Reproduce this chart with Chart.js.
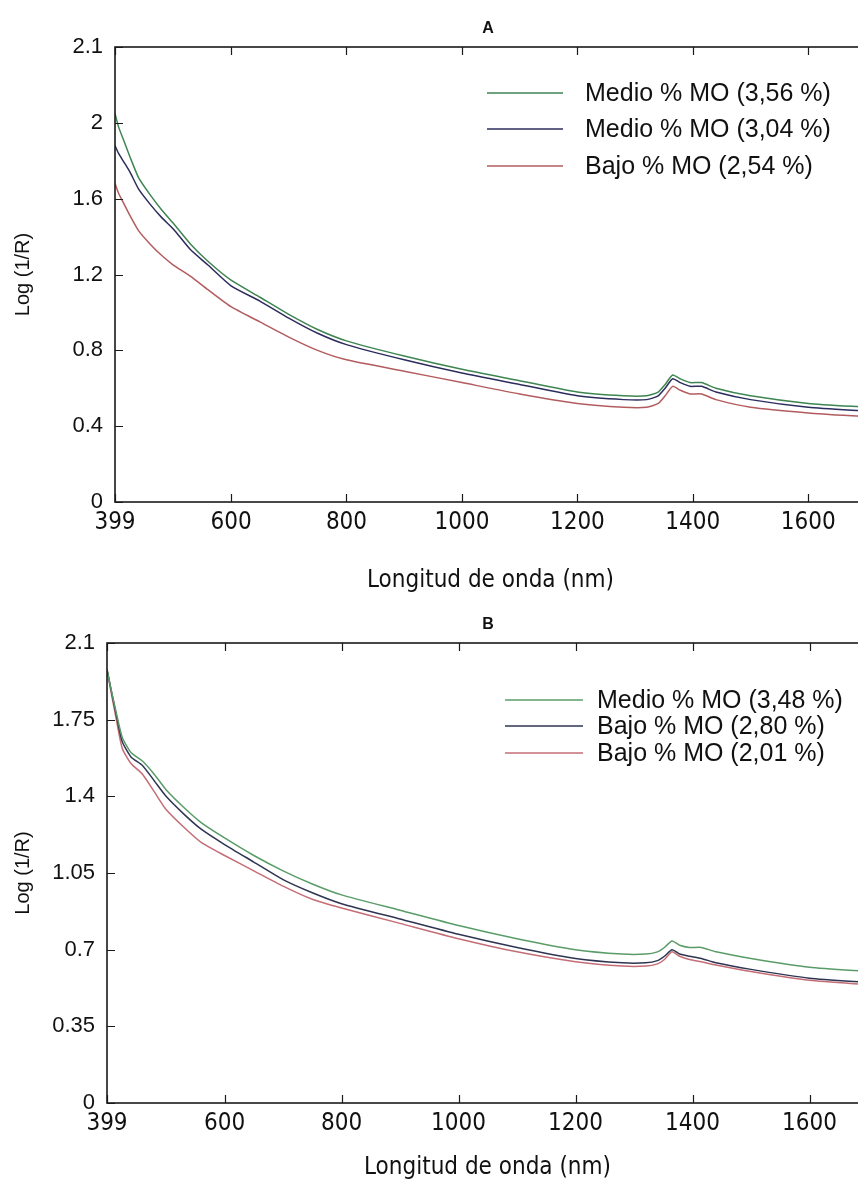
<!DOCTYPE html>
<html>
<head>
<meta charset="utf-8">
<script src="https://cdn.jsdelivr.net/npm/chart.js@4.4.1/dist/chart.umd.min.js"></script>
<style>
	html, body { margin: 0; padding: 0; background: #fff; overflow: hidden; width: 858px; height: 1187px; }
	.panel { position: absolute; left: 0; }
</style>
</head>
<body>
<div class="panel" style="top:0"><canvas id="chartA" width="880" height="600"></canvas></div>
<div class="panel" style="top:600px"><canvas id="chartB" width="880" height="587"></canvas></div>
<script>
// wavelengths (nm), shared by both panels
const wavelengths = [399, 405, 415, 425, 440, 460, 480, 500, 530, 560, 600, 650, 700, 750, 800, 900, 1000, 1100, 1200, 1280, 1320, 1340, 1352, 1365, 1378, 1395, 1415, 1440, 1500, 1600, 1700];
const xTicks = [399, 600, 800, 1000, 1200, 1400, 1600];

// Panel A
const labelsA = ["Medio % MO (3,56 %)", "Medio % MO (3,04 %)", "Bajo % MO (2,54 %)"];
const greenA = [2.05, 1.98, 1.90, 1.82, 1.71, 1.62, 1.54, 1.47, 1.36, 1.27, 1.17, 1.08, 0.99, 0.91, 0.85, 0.77, 0.70, 0.64, 0.58, 0.56, 0.56, 0.58, 0.62, 0.67, 0.65, 0.63, 0.63, 0.60, 0.56, 0.52, 0.50];
const blueA = [1.88, 1.84, 1.79, 1.74, 1.65, 1.57, 1.50, 1.44, 1.33, 1.25, 1.14, 1.06, 0.97, 0.89, 0.83, 0.75, 0.68, 0.62, 0.56, 0.54, 0.54, 0.56, 0.60, 0.65, 0.63, 0.61, 0.61, 0.58, 0.54, 0.50, 0.48];
const redA = [1.68, 1.63, 1.57, 1.51, 1.43, 1.36, 1.30, 1.25, 1.19, 1.12, 1.03, 0.95, 0.87, 0.80, 0.75, 0.69, 0.63, 0.57, 0.52, 0.50, 0.50, 0.52, 0.56, 0.61, 0.59, 0.57, 0.57, 0.54, 0.50, 0.47, 0.45];
const yTicksA = [0, 0.4, 0.8, 1.2, 1.6, 2.0, 2.4];
const yTickLabelsA = ["0", "0.4", "0.8", "1.2", "1.6", "2", "2.1"];

// Panel B
const labelsB = ["Medio % MO (3,48 %)", "Bajo % MO (2,80 %)", "Bajo % MO (2,01 %)"];
const greenB = [1.98, 1.90, 1.78, 1.67, 1.60, 1.56, 1.50, 1.43, 1.35, 1.28, 1.21, 1.13, 1.06, 1.00, 0.95, 0.88, 0.81, 0.75, 0.70, 0.68, 0.68, 0.69, 0.71, 0.74, 0.72, 0.71, 0.71, 0.69, 0.66, 0.62, 0.60];
const blueB = [1.98, 1.90, 1.77, 1.65, 1.58, 1.54, 1.47, 1.40, 1.32, 1.25, 1.18, 1.10, 1.02, 0.96, 0.91, 0.84, 0.77, 0.71, 0.66, 0.64, 0.64, 0.65, 0.67, 0.70, 0.68, 0.67, 0.66, 0.64, 0.61, 0.57, 0.55];
const redB = [1.98, 1.89, 1.75, 1.62, 1.55, 1.50, 1.42, 1.34, 1.26, 1.19, 1.13, 1.06, 0.99, 0.93, 0.89, 0.82, 0.75, 0.69, 0.645, 0.625, 0.625, 0.635, 0.655, 0.69, 0.67, 0.655, 0.645, 0.63, 0.60, 0.56, 0.54];
const yTicksB = [0, 0.35, 0.7, 1.05, 1.4, 1.75, 2.1];
const yTickLabelsB = ["0", "0.35", "0.7", "1.05", "1.4", "1.75", "2.1"];

const NARROW = '"Liberation Sans Narrow", "DejaVu Sans Condensed", "Liberation Sans", sans-serif';
const SANS = '"Liberation Sans", Arial, sans-serif';

// frame, inward ticks, panel letter and legend (matlab look)
const framePlugin = {
	id: "frame",
	afterDraw(chart, args, opts) {
		const { ctx, chartArea: a } = chart;
		const x = chart.scales.x;
		const y = chart.scales.y;
		ctx.save();
		ctx.strokeStyle = "#1a1a1a";
		ctx.lineWidth = 1.6;
		ctx.strokeRect(a.left, a.top, a.right - a.left, a.bottom - a.top);

		const len = 8;
		ctx.lineWidth = 1.2;
		ctx.beginPath();
		x.ticks.forEach((t) => {
			const px = Math.round(x.getPixelForValue(t.value)) + 0.5;
			ctx.moveTo(px, a.bottom); ctx.lineTo(px, a.bottom - len);
			ctx.moveTo(px, a.top); ctx.lineTo(px, a.top + len);
		});
		y.ticks.forEach((t) => {
			const py = Math.round(y.getPixelForValue(t.value)) + 0.5;
			ctx.moveTo(a.left, py); ctx.lineTo(a.left + len, py);
			ctx.moveTo(a.right, py); ctx.lineTo(a.right - len, py);
		});
		ctx.stroke();

		// panel letter
		ctx.fillStyle = "#111";
		ctx.font = "bold 16px " + SANS;
		ctx.textAlign = "center";
		ctx.textBaseline = "middle";
		ctx.fillText(opts.letter, opts.letterX, a.top - 18);

		// legend
		ctx.font = "25px " + SANS;
		ctx.textAlign = "left";
		chart.data.datasets.forEach((ds, i) => {
			const ly = opts.legendY[i];
			ctx.strokeStyle = ds.borderColor;
			ctx.lineWidth = 1.6;
			ctx.beginPath();
			ctx.moveTo(opts.lineX0, ly);
			ctx.lineTo(opts.lineX1, ly);
			ctx.stroke();
			ctx.fillStyle = "#111";
			ctx.fillText(ds.label, opts.textX, ly + 1);
		});
		ctx.restore();
	},
};

function makePanel(id, series, labels, colors, yTicks, yTickLabels, dims) {
	const datasets = series.map((vals, i) => ({
		label: labels[i],
		data: wavelengths.map((w, j) => ({ x: w, y: vals[j] })),
		borderColor: colors[i],
		borderWidth: 1.5,
		pointRadius: 0,
		tension: 0.2,
		fill: false,
	}));

	return new Chart(document.getElementById(id), {
		type: "line",
		data: { datasets },
		plugins: [framePlugin],
		options: {
			responsive: false,
			animation: false,
			layout: { padding: { top: dims.top, right: dims.right, left: 0, bottom: 0 } },
			plugins: {
				legend: { display: false },
				tooltip: { enabled: false },
				frame: dims.frame,
			},
			scales: {
				x: {
					type: "linear",
					min: 399,
					max: 1700,
					afterBuildTicks: (s) => { s.ticks = xTicks.map((v) => ({ value: v })); },
					afterFit: (s) => { s.height = dims.xH; },
					grid: { display: false, drawTicks: false },
					border: { display: false },
					ticks: {
						color: "#111",
						padding: 6,
						maxRotation: 0,
						autoSkip: false,
						font: { family: NARROW, size: 24 },
						callback: (v) => String(v),
					},
					title: {
						display: true,
						text: "Longitud de onda (nm)",
						color: "#111",
						font: { family: NARROW, size: 24 },
						padding: { top: 0, bottom: 5 },
					},
				},
				y: {
					type: "linear",
					min: yTicks[0],
					max: yTicks[yTicks.length - 1],
					afterBuildTicks: (s) => { s.ticks = yTicks.map((v) => ({ value: v })); },
					afterFit: (s) => { s.width = dims.yW; },
					grid: { display: false, drawTicks: false },
					border: { display: false },
					ticks: {
						color: "#111",
						padding: 12,
						autoSkip: false,
						font: { family: SANS, size: 22 },
						callback: (v, i) => yTickLabels[i],
					},
					title: {
						display: true,
						text: "Log (1/R)",
						color: "#111",
						font: { family: SANS, size: 20 },
						padding: { top: 11, bottom: 0 },
					},
				},
			},
		},
	});
}

makePanel("chartA", [greenA, blueA, redA], labelsA, ["#3f8552", "#2c2c5e", "#b35c5f"], yTicksA, yTickLabelsA, {
	top: 47, right: 14, xH: 98, yW: 115,
	frame: { letter: "A", letterX: 488, lineX0: 487, lineX1: 563, textX: 585, legendY: [93, 129, 166] },
});

makePanel("chartB", [greenB, blueB, redB], labelsB, ["#5a9c68", "#2f3452", "#c46d76"], yTicksB, yTickLabelsB, {
	top: 43, right: 12, xH: 84, yW: 107,
	frame: { letter: "B", letterX: 488, lineX0: 505, lineX1: 583, textX: 597, legendY: [100, 126, 153] },
});
</script>
</body>
</html>
